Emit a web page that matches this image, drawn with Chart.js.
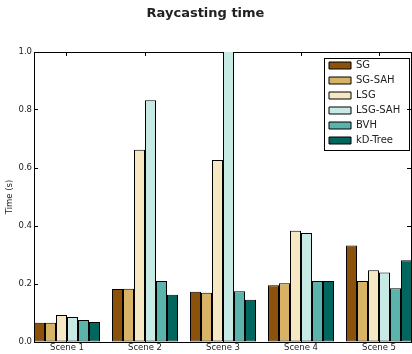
<!DOCTYPE html>
<html>
<head>
  <meta charset="utf-8" />
  <title>Raycasting time</title>
  <script src="https://cdn.jsdelivr.net/npm/chart.js"></script>
  <style>
    body { margin: 0; background: #fff; overflow: hidden; }
    #wrap { width: 412px; height: 354px; }
  </style>
</head>
<body>
  <div id="wrap"><canvas id="chart"></canvas></div>

  <script>
    // Chart data
    const scenes = ['Scene 1', 'Scene 2', 'Scene 3', 'Scene 4', 'Scene 5'];
    const scenePos = [1, 2, 3, 4, 5];
    const seriesNames = ['SG', 'SG-SAH', 'LSG', 'LSG-SAH', 'BVH', 'kD-Tree'];
    const sg      = [0.066, 0.183, 0.173, 0.196, 0.333];
    const sgSah   = [0.066, 0.184, 0.170, 0.203, 0.210];
    const lsg     = [0.093, 0.663, 0.628, 0.384, 0.247];
    const lsgSah  = [0.086, 0.834, 1.050, 0.376, 0.240];
    const bvh     = [0.076, 0.210, 0.175, 0.210, 0.185];
    const kdTree  = [0.069, 0.163, 0.146, 0.210, 0.282];
    const yTicks  = [0, 0.2, 0.4, 0.6, 0.8, 1.0];

    const allSeries = [sg, sgSah, lsg, lsgSah, bvh, kdTree];
    const colors = ['#8c510a', '#d8b365', '#f6e8c3', '#c7eae5', '#5ab4ac', '#01665e'];

    Chart.defaults.font.family = '"DejaVu Sans", sans-serif';
    Chart.defaults.color = '#222';

    // x range: first group starts on the left spine
    const xMin = 0.577;
    const xMax = 5.41;

    const datasets = allSeries.map((vals, i) => ({
      label: seriesNames[i],
      data: vals.map((v, j) => ({ x: scenePos[j], y: v })),
      backgroundColor: colors[i],
      borderColor: '#000',
      borderWidth: 1,
      borderSkipped: false,
      categoryPercentage: 66 / 78,
      barPercentage: 1
    }));

    const sceneTicks = scale => { scale.ticks = scenePos.map(v => ({ value: v })); };
    const valueTicks = scale => { scale.ticks = yTicks.map(v => ({ value: v })); };

    const spine = { display: true, color: '#000', width: 1 };
    const innerTicks = { drawOnChartArea: false, drawTicks: true, tickLength: -4, color: '#000', offset: false };

    // move the legend to the upper right and put a frame round it
    const legendBox = {
      id: 'legendBox',
      beforeDraw(chart) {
        const lg = chart.legend;
        lg.left = 324;
        lg.top = 55.5;
        lg.right = lg.left + 86;
        lg.bottom = lg.top + 96;
      },
      afterDraw(chart) {
        const lg = chart.legend;
        const ctx = chart.ctx;
        ctx.save();
        ctx.strokeStyle = '#000';
        ctx.lineWidth = 1;
        ctx.strokeRect(324.5, 58.5, 85, 92);
        ctx.restore();
      }
    };

    new Chart(document.getElementById('chart'), {
      type: 'bar',
      data: { datasets: datasets },
      plugins: [legendBox],
      options: {
        responsive: true,
        maintainAspectRatio: false,
        animation: false,
        layout: { padding: { left: 0, right: 1, top: 0, bottom: 0 } },
        plugins: {
          title: {
            display: true,
            text: 'Raycasting time',
            color: '#222',
            font: { size: 13, weight: 'bold' },
            padding: { top: 6, bottom: 30.4 }
          },
          legend: {
            position: 'chartArea',
            align: 'start',
            labels: {
              boxWidth: 22,
              boxHeight: 7,
              padding: 5,
              color: '#222',
              font: { size: 10 }
            }
          },
          tooltip: { enabled: false }
        },
        scales: {
          x: {
            type: 'linear',
            position: 'bottom',
            min: xMin,
            max: xMax,
            offset: false,
            afterBuildTicks: sceneTicks,
            afterFit: s => { s.height = 12; },
            grid: innerTicks,
            border: spine,
            ticks: {
              padding: 5,
              font: { size: 8.5 },
              color: '#222',
              maxRotation: 0,
              autoSkip: false,
              callback: v => scenes[scenePos.indexOf(v)]
            }
          },
          x2: {
            type: 'linear',
            position: 'top',
            min: xMin,
            max: xMax,
            offset: false,
            afterBuildTicks: sceneTicks,
            afterFit: s => { s.height = 0; },
            grid: innerTicks,
            border: spine,
            ticks: { display: false }
          },
          y: {
            position: 'left',
            min: 0,
            max: 1.0,
            afterBuildTicks: valueTicks,
            afterFit: s => { s.width = 34; },
            grid: innerTicks,
            border: spine,
            title: {
              display: true,
              text: 'Time (s)',
              color: '#222',
              font: { size: 8.5 },
              padding: { top: 5, bottom: 0 }
            },
            ticks: {
              padding: 6,
              font: { size: 8.5 },
              color: '#222',
              callback: v => v.toFixed(1)
            }
          },
          y2: {
            position: 'right',
            min: 0,
            max: 1.0,
            afterBuildTicks: valueTicks,
            afterFit: s => { s.width = 0; },
            grid: innerTicks,
            border: spine,
            ticks: { display: false }
          }
        }
      }
    });
  </script>
</body>
</html>
